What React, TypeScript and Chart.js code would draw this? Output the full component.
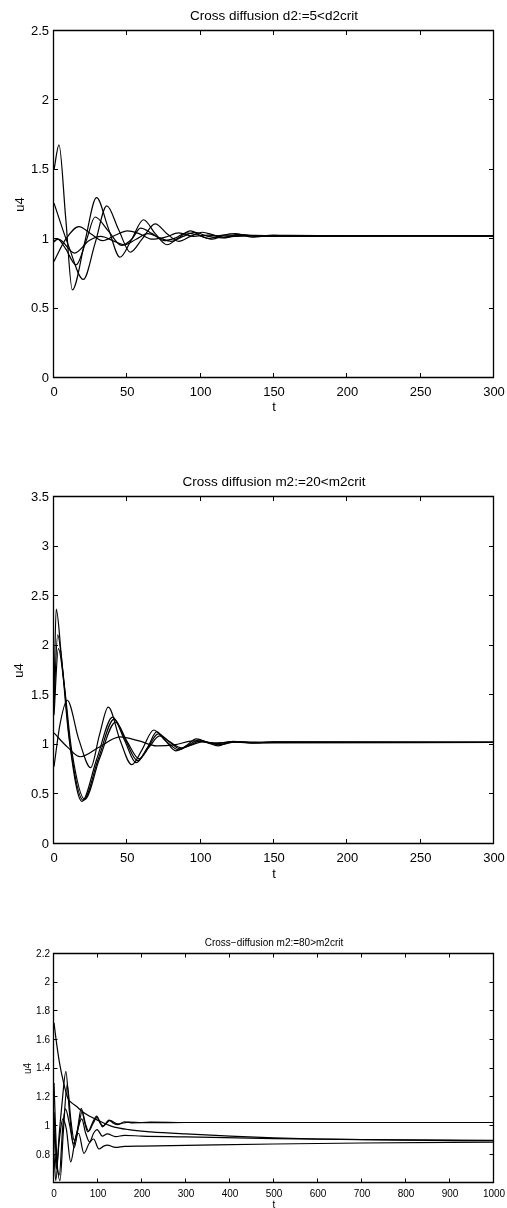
import React, { useEffect, useRef } from "react";
import { Chart, registerables } from "chart.js";

Chart.register(...registerables);

const FONT = '"Liberation Sans", Arial, Helvetica, sans-serif';

// ---------- Panel 1: Cross diffusion d2:=5<d2crit ----------
const p1Title = "Cross diffusion d2:=5<d2crit";
const p1XTicks = [0, 50, 100, 150, 200, 250, 300];
const p1YTicks = [0, 0.5, 1, 1.5, 2, 2.5];

const p1A_t = [0, 3.4, 8, 12.5, 21, 29, 37, 45, 53, 61, 69, 77, 85, 93, 101, 108, 116, 124, 135, 150, 170, 200, 300];
const p1A_v = [1.5, 1.68, 1.15, 0.635, 0.98, 1.3, 1.08, 0.87, 1.0, 1.14, 1.04, 0.96, 1.01, 1.06, 1.02, 1.0, 1.03, 1.04, 1.015, 1.03, 1.021, 1.024, 1.024];

const p1B_t = [0, 10, 20, 28, 36, 44, 52, 60, 69, 77, 85, 93, 101, 109, 117, 125, 140, 160, 200, 300];
const p1B_v = [1.26, 0.95, 0.71, 0.97, 1.24, 1.07, 0.906, 1.0, 1.11, 1.04, 0.985, 1.02, 1.05, 1.03, 1.01, 1.035, 1.02, 1.027, 1.024, 1.024];

const p1C_t = [0, 2.5, 8, 15, 22, 28, 37, 46, 53, 59, 67, 75, 83, 90, 98, 106, 115, 130, 150, 200, 300];
const p1C_v = [0.98, 1.0, 0.93, 0.815, 0.99, 1.16, 1.06, 0.955, 1.0, 1.08, 1.04, 0.99, 1.01, 1.045, 1.03, 1.005, 1.03, 1.028, 1.02, 1.024, 1.024];

const p1D_t = [0, 8, 17, 25, 33, 42, 50, 58, 67, 76, 85, 95, 105, 120, 150, 300];
const p1D_v = [0.84, 1.0, 1.09, 1.04, 0.99, 1.03, 1.06, 1.04, 1.0, 1.015, 1.045, 1.02, 1.03, 1.02, 1.026, 1.024];

const p1E_t = [0, 3, 14, 24, 32, 40, 48, 56, 64, 72, 80, 88, 96, 105, 115, 130, 160, 300];
const p1E_v = [0.99, 1.0, 0.9, 0.99, 1.02, 0.99, 0.96, 1.0, 1.04, 1.01, 0.985, 1.02, 1.05, 1.02, 1.01, 1.03, 1.022, 1.024];

// ---------- Panel 2: Cross diffusion m2:=20<m2crit ----------
const p2Title = "Cross diffusion m2:=20<m2crit";
const p2XTicks = [0, 50, 100, 150, 200, 250, 300];
const p2YTicks = [0, 0.5, 1, 1.5, 2, 2.5, 3, 3.5];

const p2A_t = [0, 1.5, 5, 10, 19, 29, 40, 48, 56, 64, 70, 77, 85, 92, 99, 106, 113, 122, 135, 150, 180, 300];
const p2A_v = [1.5, 2.37, 1.9, 1.1, 0.43, 0.85, 1.28, 1.05, 0.82, 0.98, 1.13, 1.03, 0.95, 1.0, 1.05, 1.02, 1.0, 1.035, 1.02, 1.028, 1.025, 1.025];

const p2B_t = [0, 2.5, 6, 11, 20, 30, 41, 49, 57, 64, 71, 78, 86, 93, 100, 107, 114, 124, 140, 160, 300];
const p2B_v = [1.4, 2.11, 1.75, 1.0, 0.44, 0.85, 1.26, 1.04, 0.84, 0.97, 1.11, 1.04, 0.96, 1.0, 1.04, 1.02, 1.005, 1.03, 1.022, 1.027, 1.025];

const p2C_t = [0, 3, 7, 12, 21, 31, 42, 50, 58, 65, 72, 79, 87, 94, 101, 110, 120, 140, 300];
const p2C_v = [1.3, 1.97, 1.6, 0.95, 0.45, 0.86, 1.23, 1.03, 0.86, 0.98, 1.09, 1.03, 0.97, 1.0, 1.03, 1.01, 1.03, 1.02, 1.025];

const p2D_t = [0, 4, 9, 17, 25, 31, 37, 45, 53, 60, 68, 76, 83, 90, 97, 105, 112, 120, 135, 150, 300];
const p2D_v = [0.78, 1.2, 1.45, 1.05, 0.77, 1.1, 1.38, 1.05, 0.8, 0.95, 1.15, 1.04, 0.94, 0.99, 1.06, 1.02, 0.99, 1.03, 1.02, 1.03, 1.025];

const p2E_t = [0, 9, 18, 30, 45, 58, 70, 82, 95, 110, 125, 150, 300];
const p2E_v = [1.12, 0.98, 0.88, 0.97, 1.08, 1.04, 0.99, 1.0, 1.04, 1.02, 1.03, 1.025, 1.025];

// ---------- Panel 3: Cross-diffusion m2:=80>m2crit ----------
const p3Title = "Cross\u2212diffusion m2:=80>m2crit";
const p3XTicks = [0, 100, 200, 300, 400, 500, 600, 700, 800, 900, 1000];
const p3YTicks = [0.8, 1, 1.2, 1.4, 1.6, 1.8, 2, 2.2];

const p3A_t = [0, 4, 12, 18, 27, 35, 44, 53, 62, 70, 77, 87, 97, 104, 110, 118, 125, 135, 145, 160, 180, 220, 300, 1000];
const p3A_v = [0.8, 0.62, 0.95, 1.15, 1.38, 1.1, 0.88, 0.97, 1.123, 1.02, 0.96, 1.02, 1.07, 1.03, 0.995, 1.02, 1.042, 1.02, 1.01, 1.03, 1.022, 1.028, 1.025, 1.025];

const p3B_t = [0, 6, 13.6, 21, 30, 38, 46, 55, 64, 72, 79, 89, 98, 105, 112, 127, 145, 170, 200, 300];
const p3B_v = [1.3, 0.8, 0.62, 0.95, 1.29, 1.05, 0.9, 0.99, 1.1, 1.01, 0.965, 1.02, 1.06, 1.02, 1.0, 1.04, 1.015, 1.028, 1.024, 1.025];

const p3C_t = [0, 4, 12, 22, 32, 41, 50, 65, 80, 100, 130, 170, 220, 300, 400, 500, 600, 800, 1000];
const p3C_v = [1.72, 1.62, 1.45, 1.3, 1.19, 1.16, 1.14, 1.1, 1.07, 1.04, 1.0, 0.975, 0.96, 0.945, 0.93, 0.918, 0.91, 0.902, 0.898];

const p3D_t = [0, 6, 12, 20, 26, 36, 46, 56, 63, 72, 81, 90, 98, 110, 121, 140, 160, 200, 300, 500, 700, 1000];
const p3D_v = [1.1, 0.75, 0.66, 1.0, 1.12, 1.0, 0.85, 1.0, 1.05, 0.95, 0.89, 0.95, 0.975, 0.93, 0.945, 0.926, 0.935, 0.93, 0.925, 0.912, 0.905, 0.9];

const p3E_t = [0, 5, 12, 20, 28, 38, 48, 56, 68, 80, 90, 102, 113, 121, 140, 160, 200, 300, 500, 700, 1000];
const p3E_v = [1.0, 0.7, 0.9, 1.05, 0.98, 0.75, 0.9, 0.95, 0.81, 0.88, 0.91, 0.84, 0.86, 0.867, 0.851, 0.858, 0.86, 0.865, 0.875, 0.882, 0.888];

type Series = { t: number[]; v: number[] };

type PanelCfg = {
  top: number;
  height: number;
  areaTop: number;
  areaBottom: number;
  title: string;
  titleY: number;
  xLabelY: number;
  yLabelX: number;
  xMin: number;
  xMax: number;
  yMin: number;
  yMax: number;
  xTicks: number[];
  yTicks: number[];
  tickFont: number;
  titleFont: number;
  labelFont: number;
  xPad: number;
  yPad: number;
  tickLen: number;
  series: Series[];
};

const fmt = (v: number) => String(Math.round(v * 100) / 100);

const panels: PanelCfg[] = [
  {
    top: 0, height: 420, areaTop: 31, areaBottom: 378,
    title: p1Title, titleY: 16, xLabelY: 407, yLabelX: 20,
    xMin: 0, xMax: 300, yMin: 0, yMax: 2.5,
    xTicks: p1XTicks, yTicks: p1YTicks,
    tickFont: 13, titleFont: 13.5, labelFont: 13, xPad: 6.5, yPad: 5, tickLen: 4.5,
    series: [
      { t: p1A_t, v: p1A_v }, { t: p1B_t, v: p1B_v }, { t: p1C_t, v: p1C_v },
      { t: p1D_t, v: p1D_v }, { t: p1E_t, v: p1E_v },
    ],
  },
  {
    top: 430, height: 460, areaTop: 497, areaBottom: 844,
    title: p2Title, titleY: 482.5, xLabelY: 874.5, yLabelX: 19.5,
    xMin: 0, xMax: 300, yMin: 0, yMax: 3.5,
    xTicks: p2XTicks, yTicks: p2YTicks,
    tickFont: 13, titleFont: 13.5, labelFont: 13, xPad: 6.8, yPad: 5, tickLen: 4.5,
    series: [
      { t: p2A_t, v: p2A_v }, { t: p2B_t, v: p2B_v }, { t: p2C_t, v: p2C_v },
      { t: p2D_t, v: p2D_v }, { t: p2E_t, v: p2E_v },
    ],
  },
  {
    top: 900, height: 308, areaTop: 954, areaBottom: 1183,
    title: p3Title, titleY: 943.5, xLabelY: 1205, yLabelX: 28,
    xMin: 0, xMax: 1000, yMin: 0.603, yMax: 2.2,
    xTicks: p3XTicks, yTicks: p3YTicks,
    tickFont: 10, titleFont: 10, labelFont: 10, xPad: 5, yPad: 4, tickLen: 4,
    series: [
      { t: p3A_t, v: p3A_v }, { t: p3B_t, v: p3B_v }, { t: p3C_t, v: p3C_v },
      { t: p3D_t, v: p3D_v }, { t: p3E_t, v: p3E_v },
    ],
  },
];

function makeFramePlugin(cfg: PanelCfg) {
  return {
    id: "matlabFrame",
    afterDraw(chart: any) {
      const { ctx, chartArea: a, scales } = chart;
      const xs = scales.x;
      const ys = scales.y;
      ctx.save();
      ctx.strokeStyle = "#000";
      ctx.lineWidth = 1.3;
      const L = Math.round(a.left) - 0.5;
      const R = Math.round(a.right) - 0.5;
      const T = Math.round(a.top) - 0.5;
      const B = Math.round(a.bottom) - 0.5;
      ctx.beginPath();
      ctx.rect(L, T, R - L, B - T);
      ctx.stroke();
      ctx.lineWidth = 1;
      ctx.beginPath();
      for (const v of cfg.xTicks) {
        const px = Math.round(xs.getPixelForValue(v)) - 0.5;
        ctx.moveTo(px, B);
        ctx.lineTo(px, B - cfg.tickLen);
        ctx.moveTo(px, T);
        ctx.lineTo(px, T + cfg.tickLen);
      }
      for (const v of cfg.yTicks) {
        const py = Math.round(ys.getPixelForValue(v)) - 0.5;
        ctx.moveTo(L, py);
        ctx.lineTo(L + cfg.tickLen, py);
        ctx.moveTo(R, py);
        ctx.lineTo(R - cfg.tickLen, py);
      }
      ctx.stroke();

      ctx.fillStyle = "#000";
      ctx.textAlign = "center";
      ctx.textBaseline = "middle";
      const cx = (a.left + a.right) / 2;
      ctx.font = `${cfg.titleFont}px ${FONT}`;
      ctx.fillText(cfg.title, cx, cfg.titleY - cfg.top);
      ctx.font = `${cfg.labelFont}px ${FONT}`;
      ctx.fillText("t", cx, cfg.xLabelY - cfg.top);
      ctx.translate(cfg.yLabelX, (a.top + a.bottom) / 2);
      ctx.rotate(-Math.PI / 2);
      ctx.fillText("u4", 0, 0);
      ctx.restore();
    },
  };
}

function Panel({ cfg }: { cfg: PanelCfg }) {
  const ref = useRef<HTMLCanvasElement | null>(null);
  useEffect(() => {
    if (!ref.current) return;
    const datasets = cfg.series.map((s) => ({
      data: s.t.map((x, i) => ({ x, y: s.v[i] })),
      borderColor: "#000",
      borderWidth: 1.2,
      pointRadius: 0,
      fill: false,
      cubicInterpolationMode: "monotone" as const,
    }));
    const chart = new Chart(ref.current, {
      type: "line",
      data: { datasets },
      plugins: [makeFramePlugin(cfg)],
      options: {
        animation: false,
        responsive: false,
        maintainAspectRatio: false,
        devicePixelRatio: 1,
        layout: { padding: { left: 0, right: 13, top: cfg.areaTop - cfg.top, bottom: 0 } },
        plugins: {
          legend: { display: false },
          tooltip: { enabled: false },
          title: { display: false },
        },
        scales: {
          x: {
            type: "linear",
            min: cfg.xMin,
            max: cfg.xMax,
            afterBuildTicks: (s: any) => {
              s.ticks = cfg.xTicks.map((value) => ({ value }));
            },
            afterFit: (s: any) => {
              s.height = cfg.top + cfg.height - cfg.areaBottom;
              s.paddingLeft = 0;
              s.paddingRight = 0;
            },
            grid: { display: false, drawTicks: false },
            border: { display: false },
            ticks: {
              padding: cfg.xPad,
              color: "#000",
              font: { family: FONT, size: cfg.tickFont },
              maxRotation: 0,
              autoSkip: false,
              callback: (v: any) => fmt(Number(v)),
            },
          },
          y: {
            type: "linear",
            min: cfg.yMin,
            max: cfg.yMax,
            afterBuildTicks: (s: any) => {
              s.ticks = cfg.yTicks.map((value) => ({ value }));
            },
            afterFit: (s: any) => {
              s.width = 54;
              s.paddingTop = 0;
              s.paddingBottom = 0;
            },
            grid: { display: false, drawTicks: false },
            border: { display: false },
            ticks: {
              padding: cfg.yPad,
              color: "#000",
              font: { family: FONT, size: cfg.tickFont },
              autoSkip: false,
              callback: (v: any) => fmt(Number(v)),
            },
          },
        },
      } as any,
    });
    return () => chart.destroy();
  }, [cfg]);
  return (
    <canvas
      ref={ref}
      width={507}
      height={cfg.height}
      style={{ position: "absolute", left: 0, top: cfg.top, width: 507, height: cfg.height, display: "block" }}
    />
  );
}

export default function App() {
  return (
    <div style={{ position: "absolute", left: 0, top: 0, width: 507, height: 1208, background: "#fff", overflow: "hidden" }}>
      {panels.map((p, i) => (
        <Panel key={i} cfg={p} />
      ))}
    </div>
  );
}
